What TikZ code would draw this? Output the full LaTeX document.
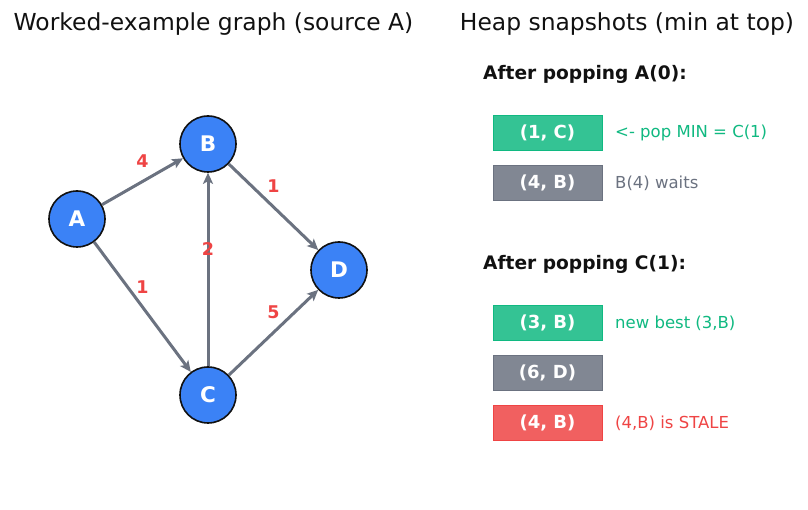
\documentclass[tikz,border=0pt]{standalone}
\usepackage{fontspec}
\setmainfont{DejaVu Sans}
\usetikzlibrary{arrows.meta,calc}
\definecolor{nodeblue}{HTML}{3B82F6}
\definecolor{edgegray}{HTML}{6B7280}
\definecolor{lblred}{HTML}{EF4444}
\definecolor{okgreen}{HTML}{10B981}
\definecolor{boxgreen}{RGB}{52,195,148}
\definecolor{boxgray}{RGB}{129,135,147}
\definecolor{boxred}{RGB}{241,96,96}
\definecolor{txtdark}{HTML}{111111}
\tikzset{
  vert/.style={circle, draw=txtdark, line width=1.6pt, fill=nodeblue, minimum size=56pt, inner sep=0pt,
    text=white, font=\fontsize{21.5}{25}\selectfont\bfseries},
  edge/.style={draw=edgegray, line width=3pt, -{Stealth[length=11pt,width=10pt,inset=2.5pt]}},
  elabel/.style={text=lblred, font=\fontsize{17.5}{21}\selectfont\bfseries},
  title/.style={text=txtdark, font=\fontsize{23.4}{27}\selectfont},
  heading/.style={text=txtdark, anchor=west, inner sep=0pt, font=\fontsize{18.6}{22}\selectfont\bfseries},
  heapbox/.style={rectangle, minimum width=109pt, minimum height=35pt, inner sep=0pt, line width=1pt,
    text=white, font=\fontsize{18}{21}\selectfont\bfseries},
  gbox/.style={heapbox, fill=boxgreen, draw=okgreen},
  ybox/.style={heapbox, fill=boxgray, draw=edgegray},
  rbox/.style={heapbox, fill=boxred, draw=lblred},
  note/.style={anchor=west, inner sep=0pt, font=\fontsize{16.5}{20}\selectfont},
}
\begin{document}
\begin{tikzpicture}[x=1pt,y=1pt]
\useasboundingbox[fill=white] (0,0) rectangle (808,510);
% titles
\node[title] (t1) at (213.5,486) {Worked-example graph (source A)};
\node[title] (t2) at (627,486) {Heap snapshots (min at top)};
% graph
\node[vert] (A) at (77,291) {A};
\node[vert] (B) at (208,366) {B};
\node[vert] (C) at (208,115) {C};
\node[vert] (D) at (339,240) {D};
\draw[edge] (A) -- (B);
\draw[edge] (A) -- (C);
\draw[edge] (B) -- (D);
\draw[edge] (C) -- (B);
\draw[edge] (C) -- (D);
\node[elabel] (lab) at ($(A)!0.5!(B)+(0,20)$) {4};
\node[elabel] (lac) at ($(A)!0.5!(C)+(0,20)$) {1};
\node[elabel] (lbd) at ($(B)!0.5!(D)+(0,21)$) {1};
\node[elabel] (lcb) at ($(C)!0.5!(B)+(0,20)$) {2};
\node[elabel] (lcd) at ($(C)!0.5!(D)+(0,20)$) {5};
% heap snapshots
\node[heading] (h1) at (483,436) {After popping A(0):};
\node[gbox] (b1) at (547.5,377) {(1, C)};
\node[ybox] (b2) at (547.5,327) {(4, B)};
\node[note, text=okgreen] (n1) at (615,377) {<- pop MIN = C(1)};
\node[note, text=edgegray] (n2) at (615,327) {B(4) waits};
\node[heading] (h2) at (483,246) {After popping C(1):};
\node[gbox] (b3) at (547.5,187) {(3, B)};
\node[ybox] (b4) at (547.5,137) {(6, D)};
\node[rbox] (b5) at (547.5,87) {(4, B)};
\node[note, text=okgreen] (n3) at (615,187) {new best (3,B)};
\node[note, text=lblred] (n5) at (615,87) {(4,B) is STALE};
\end{tikzpicture}
\end{document}
